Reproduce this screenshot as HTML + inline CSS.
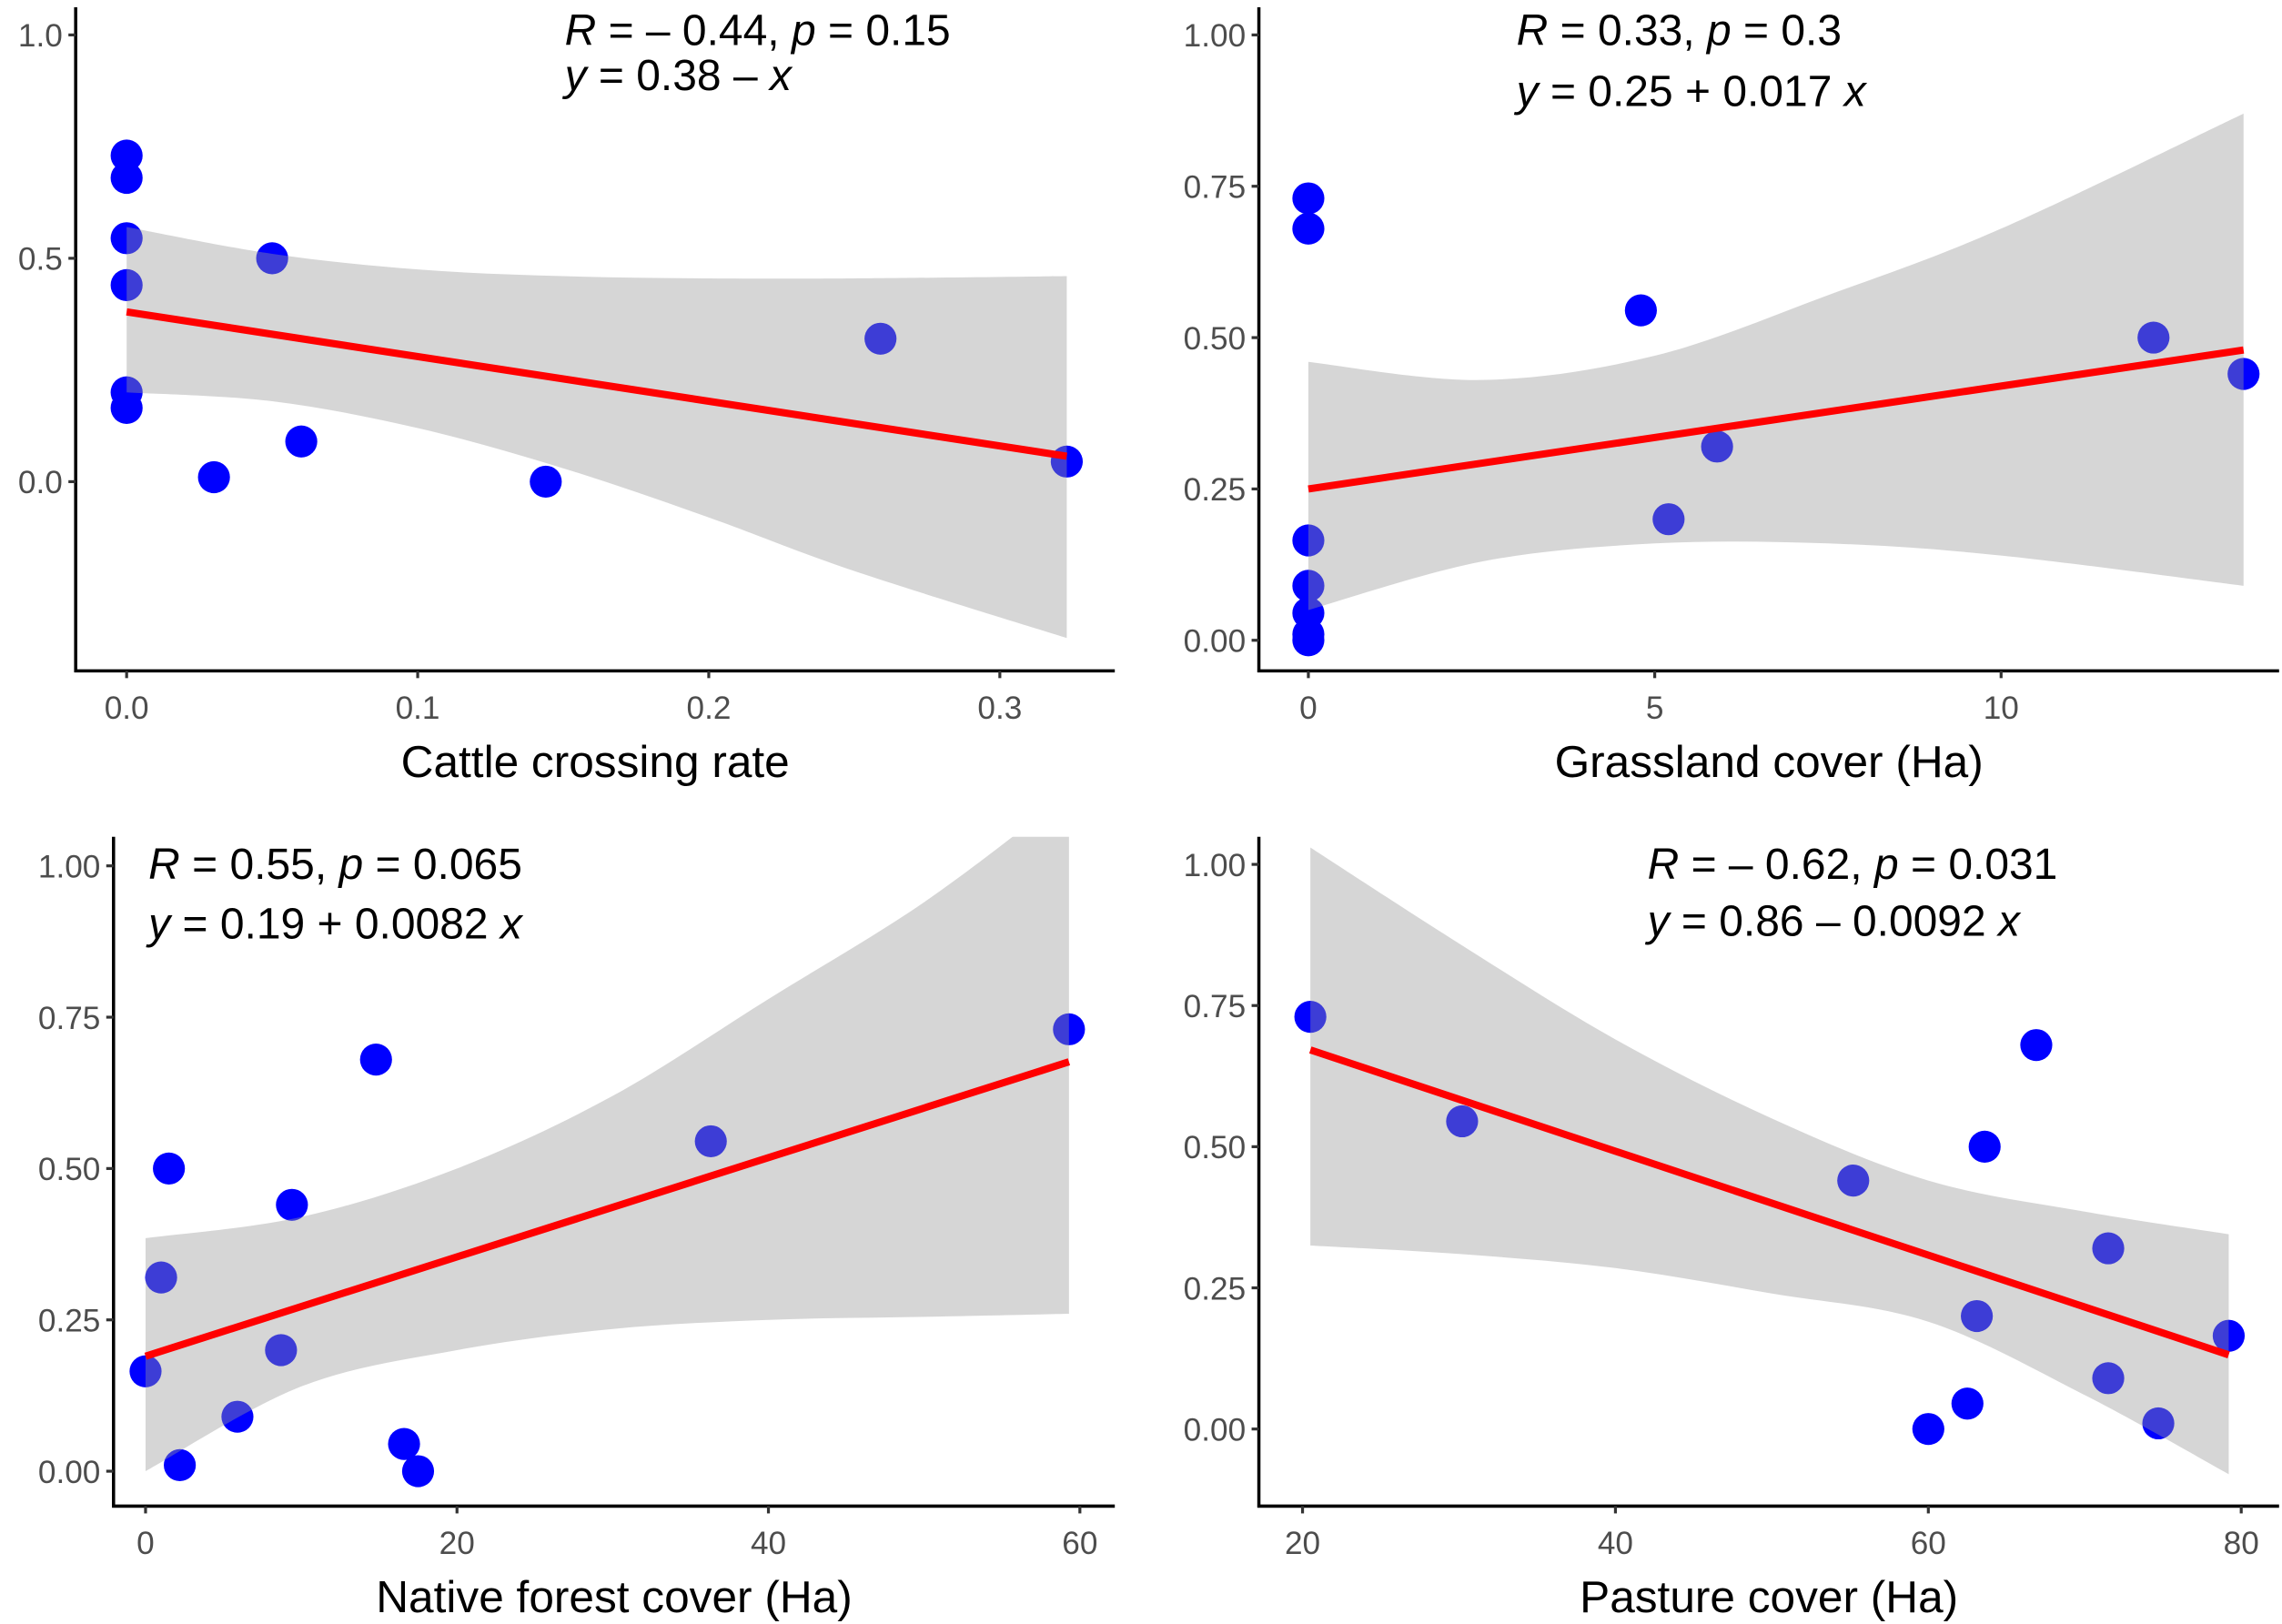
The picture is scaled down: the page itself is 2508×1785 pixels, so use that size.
<!DOCTYPE html>
<html><head><meta charset="utf-8"><style>
html,body{margin:0;padding:0;background:#fff;}
svg{display:block;}
text{font-family:"Liberation Sans",sans-serif;}
</style></head><body>
<svg id="fig" width="2508" height="1785" viewBox="0 0 1568 1116" xmlns="http://www.w3.org/2000/svg"></svg>
<script>
// Panel A: cattle crossing rate
const aX = [0,0,0,0,0,0,0.05,0.03,0.06,0.144,0.259,0.323];
const aY = [0.73,0.68,0.545,0.44,0.2,0.165,0.5,0.01,0.09,0,0.32,0.045];
const aBandX = [0,0.05,0.1,0.15,0.2,0.25,0.323];
const aBandUp = [0.57,0.51,0.475,0.46,0.455,0.455,0.46];
const aBandLo = [0.2,0.18,0.12,0.03,-0.08,-0.2,-0.35];
const aFit = [0.38,-1];
const aXTicks = [0,0.1,0.2,0.3];
const aXTickLabels = ["0.0","0.1","0.2","0.3"];
const aYTicks = [0,0.5,1];
const aYTickLabels = ["0.0","0.5","1.0"];
// Panel B: grassland
const bX = [0,0,0,0,0,0,0,4.8,5.2,5.9,12.2,13.5];
const bY = [0.73,0.68,0.165,0.09,0.045,0.01,0,0.545,0.2,0.32,0.5,0.44];
const bBandX = [0,2.5,5,7.5,10,13.5];
const bBandUp = [0.46,0.43,0.47,0.57,0.68,0.87];
const bBandLo = [0.05,0.13,0.16,0.16,0.14,0.09];
const bFit = [0.25,0.017];
const bXTicks = [0,5,10];
const bXTickLabels = ["0","5","10"];
const bYTicks = [0,0.25,0.5,0.75,1];
const bYTickLabels = ["0.00","0.25","0.50","0.75","1.00"];
// Panel C: native forest
const cX = [0,1,1.5,2.2,5.9,8.7,9.4,14.8,16.6,17.5,36.3,59.3];
const cY = [0.165,0.32,0.5,0.01,0.09,0.2,0.44,0.68,0.045,0,0.545,0.73];
const cBandX = [0,10,20,30,40,50,59.3];
const cBandUp = [0.385,0.42,0.5,0.62,0.78,0.94,1.12];
const cBandLo = [0,0.14,0.2,0.235,0.25,0.255,0.26];
const cFit = [0.19,0.0082];
const cXTicks = [0,20,40,60];
const cXTickLabels = ["0","20","40","60"];
const cYTicks = [0,0.25,0.5,0.75,1];
const cYTickLabels = ["0.00","0.25","0.50","0.75","1.00"];
// Panel D: pasture
const dX = [20.5,30.2,55.2,63.6,66.9,63.1,62.5,60,71.5,71.5,74.7,79.2];
const dY = [0.73,0.545,0.44,0.5,0.68,0.2,0.045,0,0.32,0.09,0.01,0.165];
const dBandX = [20.5,30,40,50,60,70,79.2];
const dBandUp = [1.03,0.86,0.69,0.55,0.44,0.385,0.345];
const dBandLo = [0.325,0.31,0.285,0.24,0.19,0.06,-0.08];
const dFit = [0.86,-0.0092];
const dXTicks = [20,40,60,80];
const dXTickLabels = ["20","40","60","80"];
const dYTicks = [0,0.25,0.5,0.75,1];
const dYTickLabels = ["0.00","0.25","0.50","0.75","1.00"];

const NS = "http://www.w3.org/2000/svg";
const svg = document.getElementById('fig');
function mk(tag, attrs, parent){
  const e = document.createElementNS(NS, tag);
  for (const k in attrs) e.setAttribute(k, attrs[k]);
  (parent||svg).appendChild(e);
  return e;
}
function linear(d0,d1,r0,r1){ return v => r0 + (v-d0)*(r1-r0)/(d1-d0); }
function smooth(p, start){
  let d = start ? 'M'+p[0][0]+' '+p[0][1] : 'L'+p[0][0]+' '+p[0][1];
  for (let i=0;i<p.length-1;i++){
    const p0=p[Math.max(i-1,0)], p1=p[i], p2=p[i+1], p3=p[Math.min(i+2,p.length-1)];
    const c1x=p1[0]+(p2[0]-p0[0])/6, c1y=p1[1]+(p2[1]-p0[1])/6;
    const c2x=p2[0]-(p3[0]-p1[0])/6, c2y=p2[1]-(p3[1]-p1[1])/6;
    d += ' C'+c1x+' '+c1y+' '+c2x+' '+c2y+' '+p2[0]+' '+p2[1];
  }
  return d;
}

function panel(o, idx){
  const g = mk('g', {});
  
  
  const sx = linear(o.xd[0],o.xd[1],o.xr[0],o.xr[1]);
  const sy = linear(o.yd[0],o.yd[1],o.yr[0],o.yr[1]);
  const clipId = 'clip'+idx;
  const cp = mk('clipPath', {id:clipId}, g);
  mk('rect', {x:o.left, y:o.top, width:o.right-o.left, height:o.bottom-o.top}, cp);
  const pts = mk('g', {'clip-path':'url(#'+clipId+')'}, g);
  
  
  o.px.forEach((x,i)=>{
    const c = mk('circle', {cx:sx(x), cy:sy(o.py[i]), r:11, fill:'#0000ff'}, pts);
    
    
  });
  const up = o.bx.map((x,i)=>[sx(x), sy(o.bu[i])]);
  const lo = o.bx.map((x,i)=>[sx(x), sy(o.bl[i])]).reverse();
  const d = smooth(up, true) + ' ' + smooth(lo, false) + ' Z';
  const band = mk('path', {d:d, fill:'#999999', 'fill-opacity':0.4, 'clip-path':'url(#'+clipId+')'}, g);
  
  
  const x0 = o.bx[0], x1 = o.bx[o.bx.length-1];
  const ln = mk('line', {x1:sx(x0), y1:sy(o.fit[0]+o.fit[1]*x0), x2:sx(x1), y2:sy(o.fit[0]+o.fit[1]*x1), stroke:'#ff0000', 'stroke-width':5}, g);
  
  
  const ya = mk('line', {x1:o.left, y1:o.top, x2:o.left, y2:o.bottom+1, stroke:'#000', 'stroke-width':2.2}, g);
  
  
  const xa = mk('line', {x1:o.left-1, y1:o.bottom, x2:o.right, y2:o.bottom, stroke:'#000', 'stroke-width':2.2}, g);
  
  
  o.yt.forEach((v,i)=>{
    mk('line', {x1:o.left-5, y1:sy(v), x2:o.left, y2:sy(v), stroke:'#333', 'stroke-width':2}, g);
    const t = mk('text', {x:o.left-9, y:sy(v)+8, 'text-anchor':'end', 'font-size':22, fill:'#4d4d4d'}, g);
    
    
    t.textContent = o.ytl[i];
  });
  o.xt.forEach((v,i)=>{
    mk('line', {x1:sx(v), y1:o.bottom, x2:sx(v), y2:o.bottom+5, stroke:'#333', 'stroke-width':2}, g);
    const t = mk('text', {x:sx(v), y:o.bottom+33, 'text-anchor':'middle', 'font-size':22, fill:'#4d4d4d'}, g);
    
    
    t.textContent = o.xtl[i];
  });
  const xt = mk('text', {x:(o.left+o.right)/2, y:o.bottom+73, 'text-anchor':'middle', 'font-size':31, fill:'#000'}, g);
  
  
  xt.textContent = o.title;
  const a1 = mk('text', {x:o.ax, y:o.ay1, 'font-size':30, fill:'#000'}, g);
  
  
  a1.innerHTML = o.l1;
  const a2 = mk('text', {x:o.ax, y:o.ay2, 'font-size':30, fill:'#000'}, g);
  
  
  a2.innerHTML = o.l2;
}

panel({name:'panel-cattle-crossing', left:52, right:766, top:5, bottom:461,
  xd:[0,0.1], xr:[87,287], yd:[0,0.5], yr:[331,177.5],
  px:aX, py:aY, bx:aBandX, bu:aBandUp, bl:aBandLo, fit:aFit,
  xt:aXTicks, xtl:aXTickLabels, yt:aYTicks, ytl:aYTickLabels,
  title:'Cattle crossing rate', ax:388, ay1:31, ay2:62,
  l1:'<tspan font-style="italic">R</tspan> = – 0.44, <tspan font-style="italic">p</tspan> = 0.15',
  l2:'<tspan font-style="italic">y</tspan> = 0.38 –  <tspan font-style="italic">x</tspan>'}, 1);
panel({name:'panel-grassland', left:865, right:1566, top:5, bottom:461,
  xd:[0,5], xr:[899,1137], yd:[0,0.25], yr:[440,336],
  px:bX, py:bY, bx:bBandX, bu:bBandUp, bl:bBandLo, fit:bFit,
  xt:bXTicks, xtl:bXTickLabels, yt:bYTicks, ytl:bYTickLabels,
  title:'Grassland cover (Ha)', ax:1042, ay1:31, ay2:73,
  l1:'<tspan font-style="italic">R</tspan> = 0.33, <tspan font-style="italic">p</tspan> = 0.3',
  l2:'<tspan font-style="italic">y</tspan> = 0.25 + 0.017 <tspan font-style="italic">x</tspan>'}, 2);
panel({name:'panel-native-forest', left:78, right:766, top:575, bottom:1035,
  xd:[0,20], xr:[100,314], yd:[0,0.25], yr:[1011,907],
  px:cX, py:cY, bx:cBandX, bu:cBandUp, bl:cBandLo, fit:cFit,
  xt:cXTicks, xtl:cXTickLabels, yt:cYTicks, ytl:cYTickLabels,
  title:'Native forest cover (Ha)', ax:102, ay1:604, ay2:645,
  l1:'<tspan font-style="italic">R</tspan> = 0.55, <tspan font-style="italic">p</tspan> = 0.065',
  l2:'<tspan font-style="italic">y</tspan> = 0.19 + 0.0082 <tspan font-style="italic">x</tspan>'}, 3);
panel({name:'panel-pasture', left:865, right:1566, top:575, bottom:1035,
  xd:[20,40], xr:[895,1110], yd:[0,0.25], yr:[982,885],
  px:dX, py:dY, bx:dBandX, bu:dBandUp, bl:dBandLo, fit:dFit,
  xt:dXTicks, xtl:dXTickLabels, yt:dYTicks, ytl:dYTickLabels,
  title:'Pasture cover (Ha)', ax:1132, ay1:604, ay2:643,
  l1:'<tspan font-style="italic">R</tspan> = – 0.62, <tspan font-style="italic">p</tspan> = 0.031',
  l2:'<tspan font-style="italic">y</tspan> = 0.86 – 0.0092 <tspan font-style="italic">x</tspan>'}, 4);
</script>
</body></html>
